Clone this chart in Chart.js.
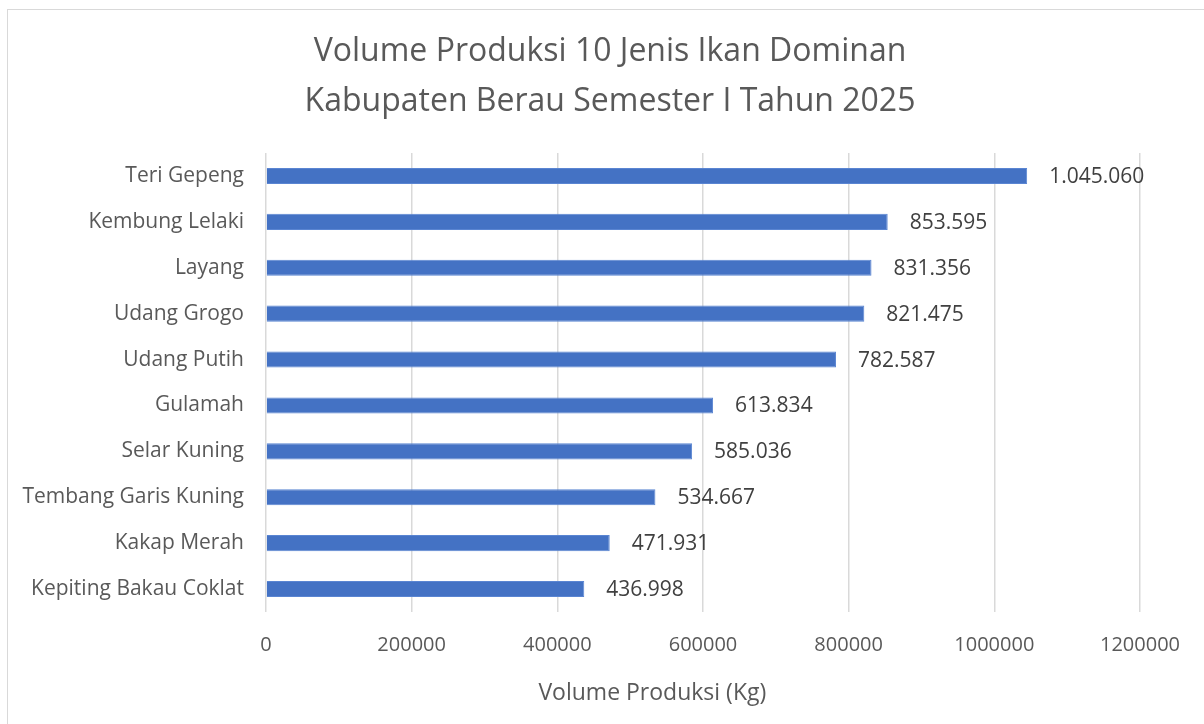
<!DOCTYPE html>
<html>
<head>
<meta charset="utf-8">
<script src="https://cdn.jsdelivr.net/npm/chart.js@4"></script>
<style>
  html, body { margin: 0; padding: 0; background: #ffffff; }
  #wrap { position: relative; width: 1204px; height: 724px; overflow: hidden; }
  #frame { position: absolute; left: 7px; top: 9px; width: 1300px; height: 800px;
           border-left: 1px solid #d9d9d9; border-top: 1px solid #d9d9d9; }
  canvas { position: absolute; left: 0; top: 0; }
</style>
</head>
<body>
<div id="wrap">
  <div id="frame"></div>
  <canvas id="c" width="1204" height="724"></canvas>
</div>
<script>
const titleLines = ["Volume Produksi 10 Jenis Ikan Dominan", "Kabupaten Berau Semester I Tahun 2025"];
const categories = ["Teri Gepeng", "Kembung Lelaki", "Layang", "Udang Grogo", "Udang Putih",
  "Gulamah", "Selar Kuning", "Tembang Garis Kuning", "Kakap Merah", "Kepiting Bakau Coklat"];
const volumes = [1045060, 853595, 831356, 821475, 782587, 613834, 585036, 534667, 471931, 436998];
const xAxisTitle = "Volume Produksi (Kg)";
const xMin = 0, xMax = 1200000, xStep = 200000;

const FONT = "'Open Sans', 'Noto Sans', sans-serif";

function fmt(v) {
  return String(v).replace(/\B(?=(\d{3})+(?!\d))/g, ".");
}

const valueLabels = {
  id: 'valueLabels',
  afterDatasetsDraw(chart) {
    const ctx = chart.ctx;
    const meta = chart.getDatasetMeta(0);
    ctx.save();
    ctx.font = "21px " + FONT;
    ctx.fillStyle = "#404040";
    ctx.textAlign = "left";
    ctx.textBaseline = "middle";
    meta.data.forEach((bar, i) => {
      ctx.fillText(fmt(chart.data.datasets[0].data[i]), bar.x + 22, bar.y + 1);
    });
    ctx.restore();
  }
};

const axisTitle = {
  id: 'axisTitle',
  afterDraw(chart) {
    const ctx = chart.ctx;
    const a = chart.chartArea;
    ctx.save();
    ctx.font = "23px " + FONT;
    ctx.fillStyle = "#595959";
    ctx.textAlign = "center";
    ctx.textBaseline = "middle";
    ctx.fillText(xAxisTitle, a.left + (a.right - a.left) * 0.442, 693);
    ctx.restore();
  }
};

new Chart(document.getElementById('c'), {
  type: 'bar',
  data: {
    labels: categories,
    datasets: [{
      data: volumes,
      backgroundColor: '#4472C4',
      borderColor: '#5a85d2',
      borderWidth: 1,
      barPercentage: 0.35,
      categoryPercentage: 1.0
    }]
  },
  options: {
    indexAxis: 'y',
    responsive: false,
    animation: false,
    devicePixelRatio: 1,
    layout: { padding: { left: 16, right: 0, top: 0, bottom: 0 } },
    plugins: {
      legend: { display: false },
      tooltip: { enabled: false },
      title: {
        display: true,
        text: titleLines,
        color: '#595959',
        font: { family: FONT, size: 32, weight: 'normal', lineHeight: 1.5625 },
        padding: { top: 27, bottom: 26 }
      }
    },
    scales: {
      x: {
        min: xMin, max: xMax,
        border: { display: false },
        grid: { color: '#d9d9d9', lineWidth: 1.5, drawTicks: false },
        ticks: {
          stepSize: xStep,
          color: '#595959',
          font: { family: FONT, size: 20 },
          padding: 21,
          callback: v => String(v)
        },
        afterFit(scale) { scale.height = 112; }
      },
      y: {
        border: { display: false },
        grid: { display: false, drawTicks: false },
        ticks: {
          color: '#595959',
          font: { family: FONT, size: 21 },
          padding: 22
        },
        afterFit(scale) { scale.width = 250; }
      },
      yRight: {
        position: 'right',
        border: { display: false },
        grid: { display: false, drawTicks: false },
        ticks: { display: false },
        afterFit(scale) { scale.width = 64; }
      }
    }
  },
  plugins: [valueLabels, axisTitle]
});
</script>
</body>
</html>
